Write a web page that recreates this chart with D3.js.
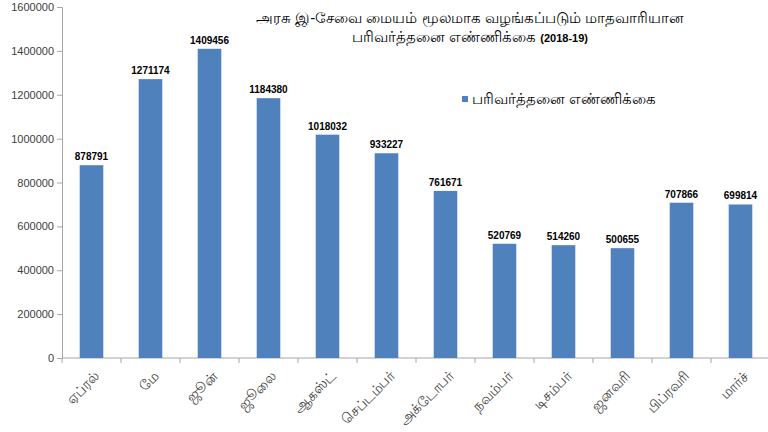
<!DOCTYPE html>
<html>
<head>
<meta charset="utf-8">
<script src="https://cdn.jsdelivr.net/npm/d3@7"></script>
<style>
  body { margin: 0; background: #fff; }
  text { font-family: "Liberation Sans", Arial, "Noto Sans", sans-serif; }
</style>
</head>
<body>
<div id="my_dataviz"></div>
<script>
// data
var months = ["ஏப்ரல்", "மே", "ஜூன்", "ஜூலை", "ஆகஸ்ட்", "செப்டம்பர்",
              "அக்டோபர்", "நவம்பர்", "டிசம்பர்", "ஜனவரி", "பிப்ரவரி", "மார்ச்"];
var counts = [878791, 1271174, 1409456, 1184380, 1018032, 933227,
              761671, 520769, 514260, 500655, 707866, 699814];
var yTicks = [0, 200000, 400000, 600000, 800000, 1000000, 1200000, 1400000, 1600000];
var seriesName = "பரிவர்த்தனை எண்ணிக்கை";

var margin = {top: 7, right: 0, bottom: 74, left: 62},
    width = 770 - margin.left - margin.right,
    height = 432 - margin.top - margin.bottom;

var svg = d3.select("#my_dataviz")
  .append("svg")
    .attr("width", 768)
    .attr("height", 432)
  .append("g")
    .attr("transform", "translate(" + margin.left + "," + margin.top + ")");

var data = months.map(function(m, i) { return {month: m, value: counts[i]}; });

// X axis
var x = d3.scaleBand()
  .domain(months)
  .range([0, width])
  .paddingInner(0.6)
  .paddingOuter(0.3);

// Y axis
var y = d3.scaleLinear()
  .domain([0, 1600000])
  .range([height, 0]);

var yAxis = svg.append("g")
  .call(d3.axisLeft(y).tickValues(yTicks).tickSize(5).tickFormat(d3.format("d")));
yAxis.select(".domain").attr("stroke", "#a6a6a6");
yAxis.selectAll(".tick line").attr("stroke", "#a6a6a6");
yAxis.selectAll(".tick text")
  .attr("fill", "#404040")
  .style("font-size", "11px")
  .attr("x", -8);

// x axis line with ticks between categories
var xg = svg.append("g").attr("transform", "translate(0," + height + ")");
xg.append("line")
  .attr("x1", 0).attr("x2", width)
  .attr("stroke", "#a6a6a6");
var step = x.step();
xg.selectAll(".xtick")
  .data(d3.range(months.length + 1))
  .enter().append("line")
  .attr("x1", function(d) { return d * step; })
  .attr("x2", function(d) { return d * step; })
  .attr("y1", 0).attr("y2", 5)
  .attr("stroke", "#a6a6a6");

xg.selectAll(".xlabel")
  .data(months)
  .enter().append("text")
  .attr("transform", function(d) {
    return "translate(" + (x(d) + x.bandwidth() / 2 + 9) + ",19) rotate(-45)";
  })
  .attr("text-anchor", "end")
  .attr("fill", "#404040")
  .style("font-size", "14px")
  .text(function(d) { return d; });

// bars
svg.selectAll(".bar")
  .data(data)
  .enter().append("rect")
  .attr("x", function(d) { return x(d.month); })
  .attr("width", x.bandwidth())
  .attr("y", function(d) { return y(d.value); })
  .attr("height", function(d) { return height - y(d.value); })
  .attr("fill", "#4f81bd");

// data labels
svg.selectAll(".lbl")
  .data(data)
  .enter().append("text")
  .attr("x", function(d) { return x(d.month) + x.bandwidth() / 2; })
  .attr("y", function(d) { return y(d.value) - 5; })
  .attr("text-anchor", "middle")
  .attr("fill", "#000")
  .style("font-size", "10px")
  .style("font-weight", "bold")
  .text(function(d) { return d.value; });

// title
var title = svg.append("text")
  .attr("text-anchor", "middle")
  .attr("fill", "#000");
title.append("tspan")
  .attr("x", 470 - margin.left).attr("y", 16)
  .style("font-size", "15px")
  .text("அரசு இ-சேவை மையம் மூலமாக வழங்கப்படும் மாதவாரியான");
title.append("tspan")
  .attr("x", 470 - margin.left).attr("y", 35)
  .style("font-size", "15px")
  .text("பரிவர்த்தனை எண்ணிக்கை ");
title.append("tspan")
  .style("font-size", "11px")
  .style("font-weight", "bold")
  .text("(2018-19)");

// legend
svg.append("rect")
  .attr("x", 462 - margin.left).attr("y", 96 - margin.top)
  .attr("width", 6).attr("height", 6)
  .attr("fill", "#4f81bd");
svg.append("text")
  .attr("x", 472 - margin.left).attr("y", 104 - margin.top)
  .attr("fill", "#000")
  .style("font-size", "15px")
  .text(seriesName);
</script>
</body>
</html>
